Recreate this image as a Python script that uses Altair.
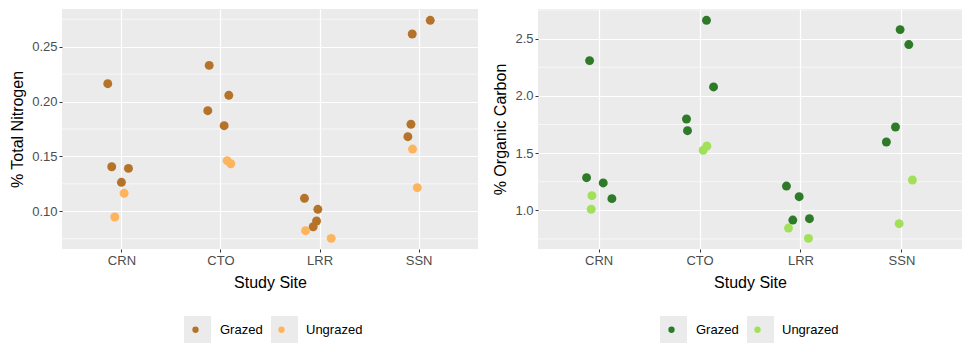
import altair as alt
import pandas as pd

sites = ["CRN", "CTO", "LRR", "SSN"]
treatments = ["Grazed", "Ungrazed"]

# Nitrogen panel
n_site = ["CRN"] * 6 + ["CTO"] * 6 + ["LRR"] * 6 + ["SSN"] * 6
n_trt = (["Grazed"] * 4 + ["Ungrazed"] * 2) * 4
n_jit = [-0.138, -0.098, 0.071, 0.000, 0.027, -0.067,
         -0.114, 0.084, -0.128, 0.037, 0.067, 0.104,
         -0.152, -0.017, -0.030, -0.064, -0.141, 0.118,
         0.118, -0.064, -0.077, -0.108, -0.061, -0.013]
n_val = [0.2163, 0.1406, 0.1391, 0.1264, 0.1164, 0.0948,
         0.2330, 0.2057, 0.1917, 0.1780, 0.1461, 0.1433,
         0.1118, 0.1018, 0.0911, 0.0859, 0.0823, 0.0753,
         0.2741, 0.2616, 0.1793, 0.1680, 0.1567, 0.1215]

# Carbon panel
c_site = ["CRN"] * 6 + ["CTO"] * 6 + ["LRR"] * 6 + ["SSN"] * 6
c_trt = (["Grazed"] * 4 + ["Ungrazed"] * 2) * 4
c_jit = [-0.089, -0.119, 0.046, 0.132, -0.066, -0.073,
         0.069, 0.139, -0.129, -0.119, 0.073, 0.036,
         -0.139, -0.013, -0.076, 0.089, -0.119, 0.079,
         -0.013, 0.073, -0.059, -0.149, 0.109, -0.023]
c_val = [2.308, 1.285, 1.239, 1.102, 1.128, 1.009,
         2.660, 2.078, 1.798, 1.696, 1.562, 1.524,
         1.212, 1.119, 0.915, 0.927, 0.845, 0.755,
         2.579, 2.448, 1.728, 1.597, 1.265, 0.883]

n_major = [0.10, 0.15, 0.20, 0.25]
n_minor = [0.075, 0.125, 0.175, 0.225, 0.275]
c_major = [1.0, 1.5, 2.0, 2.5]
c_minor = [0.75, 1.25, 1.75, 2.25, 2.75]

n_colors = ["#B5732A", "#FDB45C"]
c_colors = ["#2F7A29", "#A2E05A"]
key_bg = ["#EBEBEB", "#EBEBEB"]

label_expr = "[" + ",".join("'%s'" % s for s in sites) + "][datum.value - 1]"


def frame(site, trt, jit, val):
    return pd.DataFrame({
        "site": site,
        "Treatment": trt,
        "KeyBox": trt,
        "x": [sites.index(s) + 1 + j for s, j in zip(site, jit)],
        "value": val,
    })


def panel(df, ytitle, ydomain, major, minor, colors, fmt):
    yscale = alt.Scale(domain=ydomain, nice=False, zero=False)
    xscale = alt.Scale(domain=[0.4, 4.6], nice=False, zero=False)
    minor_rules = alt.Chart(pd.DataFrame({"m": minor})).mark_rule(
        color="white", strokeWidth=0.6
    ).encode(y=alt.Y("m:Q", scale=yscale))
    # invisible layer that only provides the grey legend key backgrounds
    keys = alt.Chart(df).mark_square(size=0, opacity=0).encode(
        x=alt.X("x:Q", scale=xscale),
        y=alt.Y("value:Q", scale=yscale),
        fill=alt.Fill("KeyBox:N",
                      scale=alt.Scale(range=key_bg),
                      legend=alt.Legend(orient="none", direction="horizontal",
                                        title=None, legendX=122, legendY=307,
                                        symbolType="square", symbolSize=729,
                                        symbolOpacity=1, symbolStrokeWidth=0,
                                        labelExpr="''", labelOffset=0,
                                        columnPadding=60, zindex=0)),
    )
    pts = alt.Chart(df).mark_circle(size=80, opacity=1).encode(
        x=alt.X("x:Q", scale=xscale,
                axis=alt.Axis(values=[1, 2, 3, 4], labelExpr=label_expr,
                              title="Study Site")),
        y=alt.Y("value:Q", scale=yscale,
                axis=alt.Axis(values=major, format=fmt, title=ytitle)),
        color=alt.Color("Treatment:N",
                        scale=alt.Scale(domain=treatments, range=colors),
                        legend=alt.Legend(orient="none", direction="horizontal",
                                          title=None, legendX=127, legendY=314,
                                          symbolSize=40, labelFontSize=13,
                                          labelColor="black", labelOffset=18,
                                          columnPadding=12,
                                          symbolStrokeWidth=0, zindex=1)),
    )
    return alt.layer(minor_rules, keys, pts).properties(width=416, height=240)


left = panel(frame(n_site, n_trt, n_jit, n_val), "% Total Nitrogen",
             [0.0656, 0.2844], n_major, n_minor, n_colors, ".2f")
right = panel(frame(c_site, c_trt, c_jit, c_val), "% Organic Carbon",
              [0.662, 2.759], c_major, c_minor, c_colors, ".1f").properties(width=424)

chart = alt.hconcat(left, right, spacing=13).resolve_scale(
    color="independent", fill="independent",
    y="independent", x="independent"
).properties(
    padding={"left": 9, "top": 9, "right": 10, "bottom": 0},
    background="white",
).configure_view(
    fill="#EBEBEB", stroke=None
).configure_axis(
    domain=False,
    gridColor="white",
    gridWidth=1.2,
    tickColor="#333333",
    tickSize=3,
    labelFont="Liberation Sans",
    labelFontSize=13,
    labelColor="#4D4D4D",
    labelPadding=2,
    titleFont="Liberation Sans",
    titleFontSize=16,
    titleFontWeight="normal",
    titleColor="black",
).configure_axisY(
    titlePadding=6
).configure_axisX(
    titlePadding=7
).configure_legend(
    labelFont="Liberation Sans"
)

chart.save("out.html", embed_options={"renderer": "svg", "actions": False})
